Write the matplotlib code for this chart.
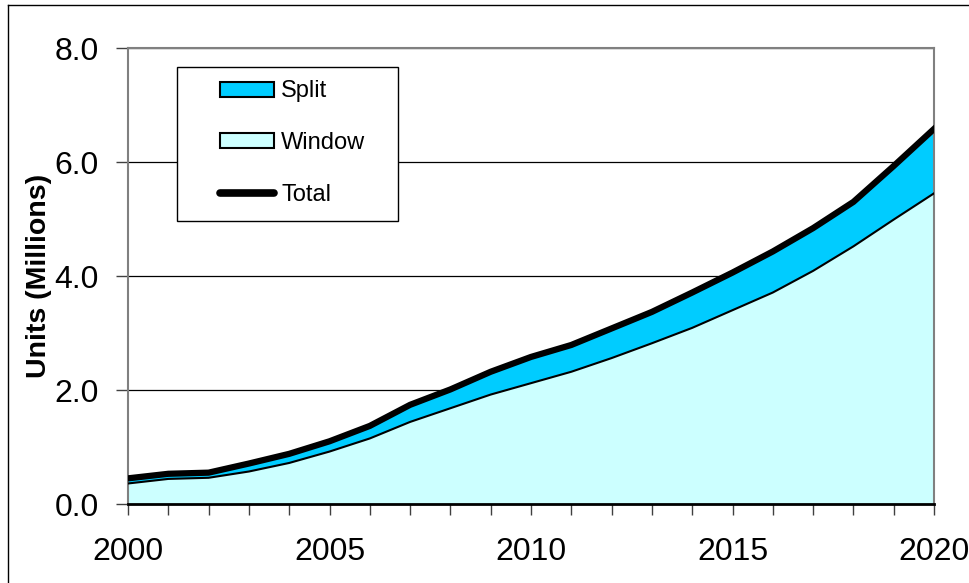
import matplotlib.pyplot as plt
from matplotlib.patches import Patch, Rectangle
from matplotlib.lines import Line2D

plt.rcParams['font.family'] = ['Liberation Sans', 'DejaVu Sans']

years = list(range(2000, 2021))
window = [0.36, 0.44, 0.46, 0.57, 0.72, 0.92, 1.15, 1.44, 1.68, 1.92, 2.12,
          2.32, 2.56, 2.82, 3.09, 3.40, 3.71, 4.09, 4.52, 4.99, 5.45]
total = [0.45, 0.53, 0.55, 0.71, 0.88, 1.10, 1.37, 1.74, 2.01, 2.32, 2.58,
         2.79, 3.08, 3.37, 3.71, 4.06, 4.43, 4.84, 5.30, 5.93, 6.58]
yticks = [0.0, 2.0, 4.0, 6.0, 8.0]
xlabels = [str(y) if y % 5 == 0 else '' for y in years]

fig = plt.figure(figsize=(9.7, 5.83), dpi=100)
ax = fig.add_axes([128 / 970, 1 - 504 / 583, 806 / 970, 456 / 583])

ax.fill_between(years, 0, window, facecolor='#CCFFFF', edgecolor='none', zorder=2)
ax.fill_between(years, window, total, facecolor='#00CCFF', edgecolor='none', zorder=2)
ax.plot(years, window, color='black', lw=1.5, zorder=3)
ax.plot(years, total, color='black', lw=4.5, zorder=4, solid_joinstyle='miter')

ax.set_xlim(2000, 2020)
ax.set_ylim(0, 8)
ax.set_yticks(yticks)
ax.set_yticklabels([f'{v:.1f}' for v in yticks], fontsize=23)
ax.set_xticks(years)
ax.set_xticklabels(xlabels, fontsize=23)
ax.tick_params(axis='y', length=9, width=1, color='#404040', pad=12)
ax.tick_params(axis='x', length=8, width=1, color='#404040', pad=16)
ax.yaxis.grid(True, color='black', lw=0.9, zorder=1)
ax.set_axisbelow(True)

for side in ['left', 'top', 'right']:
    ax.spines[side].set_color('#808080')
    ax.spines[side].set_linewidth(1.5)
ax.spines['bottom'].set_color('black')
ax.spines['bottom'].set_linewidth(2)
ax.spines['bottom'].set_zorder(5)

ax.set_ylabel('Units (Millions)', fontsize=20.5, fontweight='bold', labelpad=2)

# legend box (Excel style, fixed size)
ax.add_patch(Rectangle((0.0608, 0.6206), 0.274, 0.338, transform=ax.transAxes,
                       facecolor='white', edgecolor='black', lw=1, zorder=9))
handles = [
    Patch(facecolor='#00CCFF', edgecolor='black', lw=1.5),
    Patch(facecolor='#CCFFFF', edgecolor='black', lw=1.5),
    Line2D([0], [0], color='black', lw=5.5, solid_capstyle='round'),
]
leg = ax.legend(handles, ['Split', 'Window', 'Total'], loc='center left',
                bbox_to_anchor=((220 - 128) / 806, (504 - 143) / 456),
                fontsize=17, frameon=False,
                labelspacing=1.25, handlelength=2.3, handleheight=0.6,
                handletextpad=0.3, borderpad=0, borderaxespad=0)
leg.set_zorder(10)

# outer chart border
fig.add_artist(Line2D([8 / 970, 8 / 970], [0, 1 - 5 / 583], color='black', lw=1))
fig.add_artist(Line2D([8 / 970, 1], [1 - 5 / 583, 1 - 5 / 583], color='black', lw=1))

fig.savefig('out.png', dpi=100)
